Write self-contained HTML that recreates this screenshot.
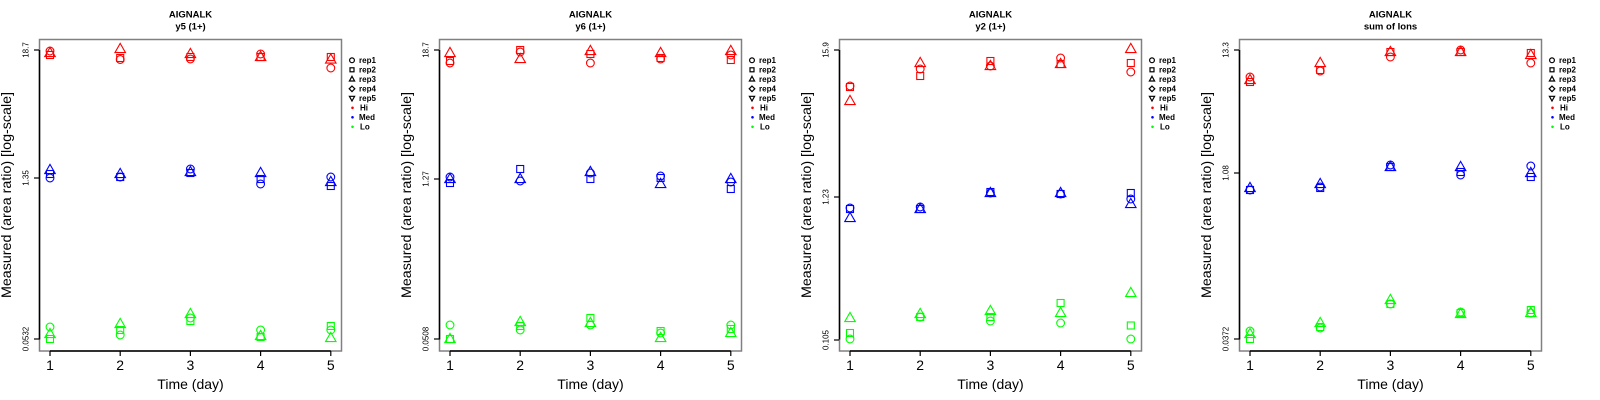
<!DOCTYPE html>
<html><head><meta charset="utf-8"><style>
html,body{margin:0;padding:0;background:#fff;}
svg{display:block;font-family:"Liberation Sans",Arial,sans-serif;}
.t{font-size:9.5px;font-weight:bold;text-anchor:middle;fill:#000;}
.xl{font-size:14px;text-anchor:middle;fill:#000;}
.yt{font-size:8px;text-anchor:middle;fill:#000;}
.lg{font-size:8px;font-weight:bold;fill:#000;}
.r use{stroke:#ff0000;}
.b use{stroke:#0000ff;}
.g use{stroke:#00ff00;}
</style></head><body>
<svg width="1600" height="400" viewBox="0 0 1600 400" xmlns="http://www.w3.org/2000/svg" xmlns:xlink="http://www.w3.org/1999/xlink">
<defs>
<circle id="c" r="3.9" fill="none" stroke-width="1.1"/>
<rect id="s" x="-3.5" y="-3.5" width="7" height="7" fill="none" stroke-width="1.1"/>
<path id="t" d="M0,-4.6 L5.25,4.55 L-5.25,4.55 Z" fill="none" stroke-width="1.1"/>
<g id="frame">
<rect x="39.5" y="39.5" width="302" height="311.5" fill="none" stroke="#808080" stroke-width="1.5"/>
<line x1="39.5" y1="50" x2="39.5" y2="339.5" stroke="#000" stroke-width="1.5"/>
<line x1="50" y1="351" x2="330.8" y2="351" stroke="#000" stroke-width="1.5"/>
<g stroke="#000" stroke-width="1.2">
<line x1="50" y1="351" x2="50" y2="356"/>
<line x1="120.2" y1="351" x2="120.2" y2="356"/>
<line x1="190.4" y1="351" x2="190.4" y2="356"/>
<line x1="260.6" y1="351" x2="260.6" y2="356"/>
<line x1="330.8" y1="351" x2="330.8" y2="356"/>
</g>
<text class="xl" x="50" y="370">1</text>
<text class="xl" x="120.2" y="370">2</text>
<text class="xl" x="190.4" y="370">3</text>
<text class="xl" x="260.6" y="370">4</text>
<text class="xl" x="330.8" y="370">5</text>
<text class="xl" x="190.5" y="389">Time (day)</text>
<text class="xl" transform="translate(11,195) rotate(-90)" textLength="206" lengthAdjust="spacingAndGlyphs">Measured (area ratio) [log-scale]</text>
<g stroke="#000" stroke-width="1.2" fill="none">
<circle cx="352" cy="60.3" r="2.4"/>
<rect x="350" y="67.8" width="4" height="4"/>
<path d="M352,76.3 L354.6,81 L349.4,81 Z"/>
<path d="M352,86 L354.8,88.8 L352,91.6 L349.2,88.8 Z"/>
<path d="M352,101 L354.6,96.3 L349.4,96.3 Z"/>
</g>
<circle cx="352.5" cy="107.8" r="1.3" fill="#ff0000"/>
<circle cx="352.5" cy="117.3" r="1.3" fill="#0000ff"/>
<circle cx="352.5" cy="126.8" r="1.3" fill="#00ff00"/>
<text class="lg" x="359" y="63.2">rep1</text>
<text class="lg" x="359" y="72.7">rep2</text>
<text class="lg" x="359" y="82.2">rep3</text>
<text class="lg" x="359" y="91.7">rep4</text>
<text class="lg" x="359" y="101.2">rep5</text>
<text class="lg" x="360" y="110.7">Hi</text>
<text class="lg" x="359" y="120.2">Med</text>
<text class="lg" x="360" y="129.7">Lo</text>
</g>
</defs>
<rect width="1600" height="400" fill="#fff"/>

<!-- Panel 1 -->
<g transform="translate(0,0)">
<use xlink:href="#frame"/>
<text class="t" x="190.5" y="17.3">AIGNALK</text>
<text class="t" x="190.5" y="29.3">y5 (1+)</text>
<g stroke="#000" stroke-width="1.2"><line x1="34" y1="50" x2="39" y2="50"/><line x1="34" y1="178" x2="39" y2="178"/><line x1="34" y1="339" x2="39" y2="339"/></g>
<text class="yt" transform="translate(28.5,50) rotate(-90)">18.7</text>
<text class="yt" transform="translate(28.5,178) rotate(-90)">1.35</text>
<text class="yt" transform="translate(28.5,339) rotate(-90)">0.0532</text>
<g class="r">
<use xlink:href="#c" x="50" y="51"/><use xlink:href="#s" x="50" y="55"/><use xlink:href="#t" x="50" y="52"/>
<use xlink:href="#t" x="120.2" y="48"/><use xlink:href="#s" x="120.2" y="58"/><use xlink:href="#c" x="120.2" y="59.5"/>
<use xlink:href="#t" x="190.4" y="53"/><use xlink:href="#s" x="190.4" y="57"/><use xlink:href="#c" x="190.4" y="59"/>
<use xlink:href="#c" x="260.6" y="54"/><use xlink:href="#s" x="260.6" y="57"/><use xlink:href="#t" x="260.6" y="56"/>
<use xlink:href="#s" x="330.8" y="57"/><use xlink:href="#t" x="330.8" y="58.5"/><use xlink:href="#c" x="330.8" y="68"/>
</g>
<g class="b">
<use xlink:href="#t" x="50" y="169"/><use xlink:href="#s" x="50" y="174"/><use xlink:href="#c" x="50" y="178"/>
<use xlink:href="#t" x="120.2" y="173"/><use xlink:href="#s" x="120.2" y="177"/><use xlink:href="#c" x="120.2" y="177"/>
<use xlink:href="#c" x="190.4" y="169"/><use xlink:href="#s" x="190.4" y="173"/><use xlink:href="#t" x="190.4" y="171"/>
<use xlink:href="#t" x="260.6" y="172"/><use xlink:href="#s" x="260.6" y="179"/><use xlink:href="#c" x="260.6" y="184"/>
<use xlink:href="#c" x="330.8" y="177"/><use xlink:href="#t" x="330.8" y="181"/><use xlink:href="#s" x="330.8" y="186"/>
</g>
<g class="g">
<use xlink:href="#c" x="50" y="327"/><use xlink:href="#t" x="50" y="333"/><use xlink:href="#s" x="50" y="339"/>
<use xlink:href="#t" x="120.2" y="323"/><use xlink:href="#s" x="120.2" y="330"/><use xlink:href="#c" x="120.2" y="335"/>
<use xlink:href="#t" x="190.4" y="313"/><use xlink:href="#s" x="190.4" y="321"/><use xlink:href="#c" x="190.4" y="318"/>
<use xlink:href="#c" x="260.6" y="330"/><use xlink:href="#t" x="260.6" y="335"/><use xlink:href="#s" x="260.6" y="337"/>
<use xlink:href="#s" x="330.8" y="326"/><use xlink:href="#c" x="330.8" y="330"/><use xlink:href="#t" x="330.8" y="337"/>
</g>
</g>

<!-- Panel 2 -->
<g transform="translate(400,0)">
<use xlink:href="#frame"/>
<text class="t" x="190.5" y="17.3">AIGNALK</text>
<text class="t" x="190.5" y="29.3">y6 (1+)</text>
<g stroke="#000" stroke-width="1.2"><line x1="34" y1="50" x2="39" y2="50"/><line x1="34" y1="179" x2="39" y2="179"/><line x1="34" y1="339" x2="39" y2="339"/></g>
<text class="yt" transform="translate(28.5,50) rotate(-90)">18.7</text>
<text class="yt" transform="translate(28.5,179) rotate(-90)">1.27</text>
<text class="yt" transform="translate(28.5,339) rotate(-90)">0.0508</text>
<g class="r">
<use xlink:href="#t" x="50" y="52"/><use xlink:href="#s" x="50" y="61"/><use xlink:href="#c" x="50" y="63"/>
<use xlink:href="#s" x="120.2" y="50"/><use xlink:href="#c" x="120.2" y="52"/><use xlink:href="#t" x="120.2" y="58"/>
<use xlink:href="#t" x="190.4" y="50"/><use xlink:href="#s" x="190.4" y="54"/><use xlink:href="#c" x="190.4" y="63"/>
<use xlink:href="#t" x="260.6" y="52"/><use xlink:href="#s" x="260.6" y="58"/><use xlink:href="#c" x="260.6" y="59"/>
<use xlink:href="#t" x="330.8" y="50"/><use xlink:href="#s" x="330.8" y="60"/><use xlink:href="#c" x="330.8" y="55"/>
</g>
<g class="b">
<use xlink:href="#c" x="50" y="177"/><use xlink:href="#t" x="50" y="178"/><use xlink:href="#s" x="50" y="183"/>
<use xlink:href="#s" x="120.2" y="169"/><use xlink:href="#t" x="120.2" y="178"/><use xlink:href="#c" x="120.2" y="181"/>
<use xlink:href="#t" x="190.4" y="171"/><use xlink:href="#c" x="190.4" y="173"/><use xlink:href="#s" x="190.4" y="179"/>
<use xlink:href="#c" x="260.6" y="176"/><use xlink:href="#s" x="260.6" y="178"/><use xlink:href="#t" x="260.6" y="183"/>
<use xlink:href="#t" x="330.8" y="178"/><use xlink:href="#c" x="330.8" y="182"/><use xlink:href="#s" x="330.8" y="189"/>
</g>
<g class="g">
<use xlink:href="#c" x="50" y="325"/><use xlink:href="#s" x="50" y="339"/><use xlink:href="#t" x="50" y="338"/>
<use xlink:href="#t" x="120.2" y="321"/><use xlink:href="#s" x="120.2" y="326"/><use xlink:href="#c" x="120.2" y="330"/>
<use xlink:href="#s" x="190.4" y="318"/><use xlink:href="#t" x="190.4" y="322"/><use xlink:href="#c" x="190.4" y="325"/>
<use xlink:href="#s" x="260.6" y="331"/><use xlink:href="#c" x="260.6" y="333"/><use xlink:href="#t" x="260.6" y="337"/>
<use xlink:href="#c" x="330.8" y="325"/><use xlink:href="#s" x="330.8" y="329"/><use xlink:href="#t" x="330.8" y="332"/>
</g>
</g>

<!-- Panel 3 -->
<g transform="translate(800,0)">
<use xlink:href="#frame"/>
<text class="t" x="190.5" y="17.3">AIGNALK</text>
<text class="t" x="190.5" y="29.3">y2 (1+)</text>
<g stroke="#000" stroke-width="1.2"><line x1="34" y1="50" x2="39" y2="50"/><line x1="34" y1="197" x2="39" y2="197"/><line x1="34" y1="340" x2="39" y2="340"/></g>
<text class="yt" transform="translate(28.5,50) rotate(-90)">15.9</text>
<text class="yt" transform="translate(28.5,197) rotate(-90)">1.23</text>
<text class="yt" transform="translate(28.5,340) rotate(-90)">0.105</text>
<g class="r">
<use xlink:href="#c" x="50" y="86"/><use xlink:href="#s" x="50" y="87"/><use xlink:href="#t" x="50" y="100"/>
<use xlink:href="#t" x="120.2" y="62"/><use xlink:href="#c" x="120.2" y="69"/><use xlink:href="#s" x="120.2" y="76"/>
<use xlink:href="#s" x="190.4" y="61"/><use xlink:href="#t" x="190.4" y="65"/><use xlink:href="#c" x="190.4" y="66"/>
<use xlink:href="#c" x="260.6" y="58"/><use xlink:href="#s" x="260.6" y="64"/><use xlink:href="#t" x="260.6" y="63"/>
<use xlink:href="#t" x="330.8" y="48"/><use xlink:href="#s" x="330.8" y="63"/><use xlink:href="#c" x="330.8" y="72"/>
</g>
<g class="b">
<use xlink:href="#c" x="50" y="208"/><use xlink:href="#s" x="50" y="209"/><use xlink:href="#t" x="50" y="217"/>
<use xlink:href="#c" x="120.2" y="207"/><use xlink:href="#s" x="120.2" y="209"/><use xlink:href="#t" x="120.2" y="208"/>
<use xlink:href="#s" x="190.4" y="192"/><use xlink:href="#t" x="190.4" y="192"/><use xlink:href="#c" x="190.4" y="193"/>
<use xlink:href="#t" x="260.6" y="192"/><use xlink:href="#c" x="260.6" y="194"/><use xlink:href="#s" x="260.6" y="194"/>
<use xlink:href="#s" x="330.8" y="193"/><use xlink:href="#c" x="330.8" y="199"/><use xlink:href="#t" x="330.8" y="203"/>
</g>
<g class="g">
<use xlink:href="#t" x="50" y="317"/><use xlink:href="#s" x="50" y="333"/><use xlink:href="#c" x="50" y="339"/>
<use xlink:href="#t" x="120.2" y="313"/><use xlink:href="#s" x="120.2" y="317"/><use xlink:href="#c" x="120.2" y="317"/>
<use xlink:href="#t" x="190.4" y="310"/><use xlink:href="#s" x="190.4" y="317"/><use xlink:href="#c" x="190.4" y="321"/>
<use xlink:href="#s" x="260.6" y="303"/><use xlink:href="#t" x="260.6" y="312"/><use xlink:href="#c" x="260.6" y="323"/>
<use xlink:href="#t" x="330.8" y="292"/><use xlink:href="#s" x="330.8" y="325.5"/><use xlink:href="#c" x="330.8" y="339"/>
</g>
</g>

<!-- Panel 4 -->
<g transform="translate(1200,0)">
<use xlink:href="#frame"/>
<text class="t" x="190.5" y="17.3">AIGNALK</text>
<text class="t" x="190.5" y="29.3">sum of Ions</text>
<g stroke="#000" stroke-width="1.2"><line x1="34" y1="50" x2="39" y2="50"/><line x1="34" y1="173" x2="39" y2="173"/><line x1="34" y1="339" x2="39" y2="339"/></g>
<text class="yt" transform="translate(28.5,50) rotate(-90)">13.3</text>
<text class="yt" transform="translate(28.5,173) rotate(-90)">1.08</text>
<text class="yt" transform="translate(28.5,339) rotate(-90)">0.0372</text>
<g class="r">
<use xlink:href="#c" x="50" y="77"/><use xlink:href="#t" x="50" y="79"/><use xlink:href="#s" x="50" y="82"/>
<use xlink:href="#t" x="120.2" y="62"/><use xlink:href="#s" x="120.2" y="70"/><use xlink:href="#c" x="120.2" y="71"/>
<use xlink:href="#t" x="190.4" y="51"/><use xlink:href="#s" x="190.4" y="52"/><use xlink:href="#c" x="190.4" y="57"/>
<use xlink:href="#c" x="260.6" y="50"/><use xlink:href="#s" x="260.6" y="52"/><use xlink:href="#t" x="260.6" y="51"/>
<use xlink:href="#s" x="330.8" y="53"/><use xlink:href="#t" x="330.8" y="54"/><use xlink:href="#c" x="330.8" y="63"/>
</g>
<g class="b">
<use xlink:href="#t" x="50" y="187"/><use xlink:href="#c" x="50" y="190"/><use xlink:href="#s" x="50" y="190"/>
<use xlink:href="#t" x="120.2" y="183"/><use xlink:href="#s" x="120.2" y="188"/><use xlink:href="#c" x="120.2" y="187"/>
<use xlink:href="#c" x="190.4" y="165"/><use xlink:href="#s" x="190.4" y="167"/><use xlink:href="#t" x="190.4" y="166"/>
<use xlink:href="#t" x="260.6" y="166"/><use xlink:href="#s" x="260.6" y="172"/><use xlink:href="#c" x="260.6" y="175"/>
<use xlink:href="#c" x="330.8" y="166"/><use xlink:href="#t" x="330.8" y="172"/><use xlink:href="#s" x="330.8" y="177"/>
</g>
<g class="g">
<use xlink:href="#c" x="50" y="331"/><use xlink:href="#t" x="50" y="333"/><use xlink:href="#s" x="50" y="339"/>
<use xlink:href="#t" x="120.2" y="322"/><use xlink:href="#s" x="120.2" y="327"/><use xlink:href="#c" x="120.2" y="328"/>
<use xlink:href="#t" x="190.4" y="299"/><use xlink:href="#s" x="190.4" y="304"/><use xlink:href="#c" x="190.4" y="304"/>
<use xlink:href="#c" x="260.6" y="312"/><use xlink:href="#s" x="260.6" y="313"/><use xlink:href="#t" x="260.6" y="313"/>
<use xlink:href="#s" x="330.8" y="310"/><use xlink:href="#t" x="330.8" y="312"/><use xlink:href="#c" x="330.8" y="313"/>
</g>
</g>
</svg>
</body></html>
